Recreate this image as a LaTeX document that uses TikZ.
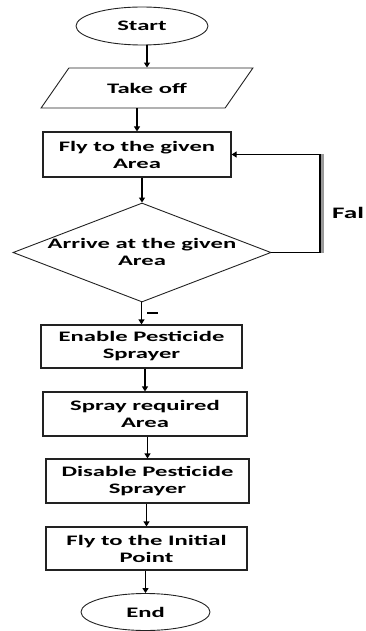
\documentclass[tikz,border=0pt]{standalone}
\usepackage{fontspec}
\usepackage{tikz}
\usetikzlibrary{
  arrows.meta,
  shapes.geometric,
  calc
}
\newfontfamily\flowfont{Carlito}[FakeStretch=1.7]
\definecolor{fcLine}{HTML}{222222}
\definecolor{fcShade}{HTML}{9A9A9A}

\begin{document}
\begin{tikzpicture}[x=1pt, y=-1pt,
    font=\flowfont\bfseries\fontsize{14.5}{17}\selectfont,
    term/.style={ellipse, draw=fcLine, line width=0.9pt, inner sep=0pt},
    iobox/.style={trapezium, trapezium left angle=36, trapezium right angle=144,
      trapezium stretches=true, draw=fcLine, line width=0.9pt, inner sep=0pt},
    procbox/.style={rectangle, draw=fcLine, line width=1.2pt, align=center, inner sep=0pt},
    decision/.style={diamond, draw=fcLine, line width=0.9pt, inner sep=0pt},
    arr/.style={-{Triangle[width=6pt,length=5pt]}, line width=1.2pt, draw=black}]
  \useasboundingbox (0,0) rectangle (365,631);

  % terminals, steps and the check
  \node[term, minimum width=132, minimum height=38] (start) at (142,26) {Start};
  \node[iobox, minimum width=212, minimum height=40] (takeoff) at (147,88) {Take off};
  \node[procbox, minimum width=188, minimum height=45] (fly) at (137,154.5) {Fly to the given\\Area};
  \node[decision, minimum width=258, minimum height=99] (arrive) at (142,252.5) {};
  \node[align=center] (arrivetxt) at (142,252) {Arrive at the given\\Area};
  \node[procbox, minimum width=201, minimum height=43] (enable) at (141.5,346.5) {Enable Pesticide\\Sprayer};
  \node[procbox, minimum width=204, minimum height=44] (spray) at (145,414) {Spray required\\Area};
  \node[procbox, minimum width=203, minimum height=44] (disable) at (147.5,481) {Disable Pesticide\\Sprayer};
  \node[procbox, minimum width=201, minimum height=43] (flyback) at (146.5,548.5) {Fly to the Initial\\Point};
  \node[term, minimum width=129, minimum height=37] (end) at (145.5,612) {End};

  % main flow
  \foreach \a/\b in {start/takeoff, takeoff/fly, fly/arrive, arrive/enable,
                     enable/spray, spray/disable, disable/flyback, flyback/end}{
    \draw[arr] (\b.north |- \a.south) -- (\b.north);
  }

  % loop back when not there yet
  \coordinate (bend) at (320,200);
  \coordinate (shade) at (322.5,200);
  \draw[fcShade, line width=2.5pt] (shade |- arrive.east) -- (shade |- fly.east);
  \draw[arr] (arrive.east) -| (bend) |- (fly.east);
  \node[anchor=west, inner sep=0pt, font=\flowfont\bfseries\fontsize{16}{18}\selectfont] (falselbl) at (332,213) {Fal};

  \draw[line width=2.6pt] (147,313) -- (158,313);
\end{tikzpicture}
\end{document}
